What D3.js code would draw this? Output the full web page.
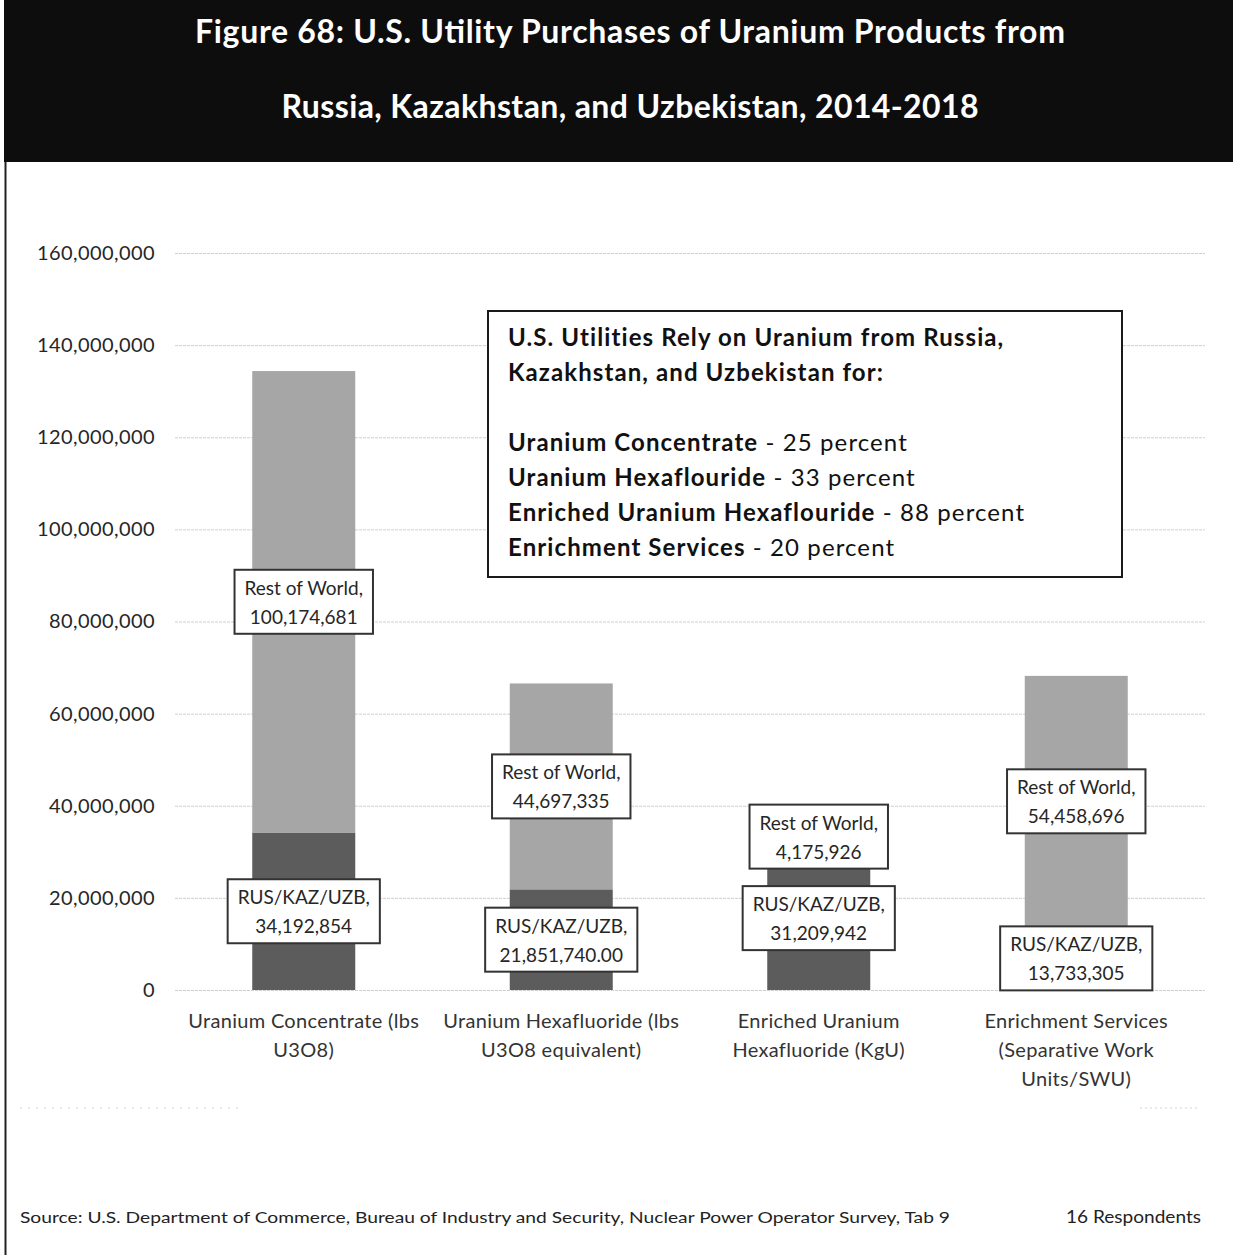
<!DOCTYPE html>
<html>
<head>
<meta charset="utf-8">
<script src="https://cdn.jsdelivr.net/npm/d3@7"></script>
<style>
  body { margin: 0; background: #fff; }
  svg { display: block; font-family: Lato, "Open Sans", sans-serif; }
</style>
</head>
<body>
<script>
// chart data
const categories = [
  ["Uranium Concentrate (lbs", "U3O8)"],
  ["Uranium Hexafluoride  (lbs", "U3O8 equivalent)"],
  ["Enriched Uranium", "Hexafluoride (KgU)"],
  ["Enrichment Services", "(Separative Work", "Units/SWU)"]
];
const rusValues = [34192854, 21851740, 31209942, 13733305];
const rowValues = [100174681, 44697335, 4175926, 54458696];
const rusLabels = ["34,192,854", "21,851,740.00", "31,209,942", "13,733,305"];
const rowLabels = ["100,174,681", "44,697,335", "4,175,926", "54,458,696"];
const yTicks = [0, 20000000, 40000000, 60000000, 80000000, 100000000, 120000000, 140000000, 160000000];

const titleLines = [
  "Figure 68: U.S. Utility Purchases of Uranium Products from",
  "Russia, Kazakhstan, and Uzbekistan, 2014-2018"
];
const titleWidths = [870, 697];
const boxLines = [
  {bold: "U.S. Utilities Rely on Uranium from Russia,", rest: ""},
  {bold: "Kazakhstan, and Uzbekistan for:", rest: ""},
  {bold: "", rest: ""},
  {bold: "Uranium Concentrate", rest: " - 25 percent"},
  {bold: "Uranium Hexaflouride", rest: " - 33 percent"},
  {bold: "Enriched Uranium Hexaflouride", rest: " - 88 percent"},
  {bold: "Enrichment Services", rest: " - 20 percent"}
];
const sourceText = "Source: U.S. Department of Commerce, Bureau of Industry and Security, Nuclear Power Operator Survey, Tab 9";
const respondents = "16 Respondents";

const width = 1233;
const height = 1255;
const colors = {rus: "#5c5c5c", row: "#a6a6a6"};

const svg = d3.select("body").append("svg")
  .attr("width", width)
  .attr("height", height);

// title bar
svg.append("rect")
  .attr("x", 4).attr("y", 0)
  .attr("width", width - 4).attr("height", 162)
  .attr("fill", "#0d0d0d");

svg.append("g").selectAll("text")
  .data(titleLines)
  .join("text")
    .attr("x", 630)
    .attr("y", (d, i) => 43 + i * 75)
    .attr("text-anchor", "middle")
    .attr("fill", "#fff")
    .attr("font-weight", "bold")
    .attr("font-size", 32)
    .attr("textLength", (d, i) => titleWidths[i])
    .attr("lengthAdjust", "spacing")
    .text((d) => d);

// left frame line
svg.append("line")
  .attr("x1", 5.5).attr("x2", 5.5)
  .attr("y1", 162).attr("y2", height)
  .attr("stroke", "#222").attr("stroke-width", 2);

// scales
const x = d3.scaleBand()
  .domain(d3.range(categories.length))
  .range([175, 1205])
  .paddingInner(0.6)
  .paddingOuter(0.3);

const y = d3.scaleLinear()
  .domain([0, 160000000])
  .range([990, 253]);

// grid + y axis
const yAxis = d3.axisLeft(y)
  .tickValues(yTicks)
  .tickSize(-(1205 - 175))
  .tickPadding(20)
  .tickFormat(d3.format(","));

const gy = svg.append("g")
  .attr("transform", "translate(175,0)")
  .call(yAxis);
gy.select(".domain").remove();
gy.selectAll(".tick line")
  .attr("stroke", "#cfcfcf")
  .attr("stroke-dasharray", "3,1");
gy.selectAll(".tick text")
  .attr("font-family", "Lato, sans-serif")
  .attr("font-size", 20)
  .attr("letter-spacing", 0.4)
  .attr("fill", "#262626");

// stacked bars
const rows = categories.map((c, i) => ({i: i, rus: rusValues[i], row: rowValues[i]}));
const stack = d3.stack().keys(["rus", "row"]);
const series = stack(rows);

svg.append("g").selectAll("g")
  .data(series)
  .join("g")
    .attr("fill", (d) => colors[d.key])
  .selectAll("rect")
  .data((d) => d)
  .join("rect")
    .attr("x", (d) => x(d.data.i))
    .attr("width", x.bandwidth())
    .attr("y", (d) => y(d[1]))
    .attr("height", (d) => y(d[0]) - y(d[1]));

// data labels in boxes
const labelG = svg.append("g");
series.forEach((s) => {
  s.forEach((d) => {
    const i = d.data.i;
    const cx = x(i) + x.bandwidth() / 2;
    const cy = y((d[0] + d[1]) / 2);
    const lines = s.key === "rus"
      ? ["RUS/KAZ/UZB,", rusLabels[i]]
      : ["Rest of World,", rowLabels[i]];
    const g = labelG.append("g");
    const box = g.append("rect");
    const t = g.selectAll("text")
      .data(lines)
      .join("text")
        .attr("x", cx)
        .attr("y", (l, k) => cy - 7 + k * 29)
        .attr("text-anchor", "middle")
        .attr("font-size", 19)
        .attr("fill", "#262626")
        .text((l) => l);
    let w = 0;
    t.each(function() { w = Math.max(w, this.getComputedTextLength()); });
    box.attr("x", cx - w / 2 - 10)
      .attr("y", cy - 32)
      .attr("width", w + 20)
      .attr("height", 64)
      .attr("fill", "#fff")
      .attr("stroke", "#333")
      .attr("stroke-width", 2);
  });
});

// category labels
svg.append("g").selectAll("text")
  .data(categories)
  .join("text")
    .attr("text-anchor", "middle")
    .attr("font-size", 20)
    .attr("letter-spacing", 0.3)
    .attr("fill", "#333")
    .attr("y", 1028)
  .selectAll("tspan")
  .data((d, i) => d.map((l) => ({l: l, i: i})))
  .join("tspan")
    .attr("x", (d) => x(d.i) + x.bandwidth() / 2)
    .attr("dy", (d, k) => k === 0 ? 0 : 29)
    .text((d) => d.l);

// faint bottom border remnants
svg.append("line")
  .attr("x1", 20).attr("x2", 240)
  .attr("y1", 1108).attr("y2", 1108)
  .attr("stroke", "#d4d4d4").attr("stroke-dasharray", "2,6");
svg.append("line")
  .attr("x1", 1140).attr("x2", 1200)
  .attr("y1", 1108).attr("y2", 1108)
  .attr("stroke", "#d4d4d4").attr("stroke-dasharray", "2,3");

// callout box
svg.append("rect")
  .attr("x", 488).attr("y", 311)
  .attr("width", 634).attr("height", 266)
  .attr("fill", "#fff")
  .attr("stroke", "#1a1a1a")
  .attr("stroke-width", 2);

const bt = svg.append("g").selectAll("text")
  .data(boxLines)
  .join("text")
    .attr("x", 508)
    .attr("y", (d, i) => 346 + i * 35)
    .attr("font-size", 24)
    .attr("letter-spacing", 1.1)
    .attr("fill", "#111");
bt.append("tspan")
  .attr("font-weight", "bold")
  .text((d) => d.bold);
bt.append("tspan")
  .text((d) => d.rest);

// footer
svg.append("text")
  .attr("x", 20).attr("y", 1223)
  .attr("font-size", 16)
  .attr("fill", "#222")
  .attr("textLength", 930)
  .attr("lengthAdjust", "spacingAndGlyphs")
  .text(sourceText);
svg.append("text")
  .attr("x", 1201).attr("y", 1223)
  .attr("text-anchor", "end")
  .attr("font-size", 17)
  .attr("fill", "#222")
  .attr("textLength", 135)
  .attr("lengthAdjust", "spacingAndGlyphs")
  .text(respondents);
</script>
</body>
</html>
